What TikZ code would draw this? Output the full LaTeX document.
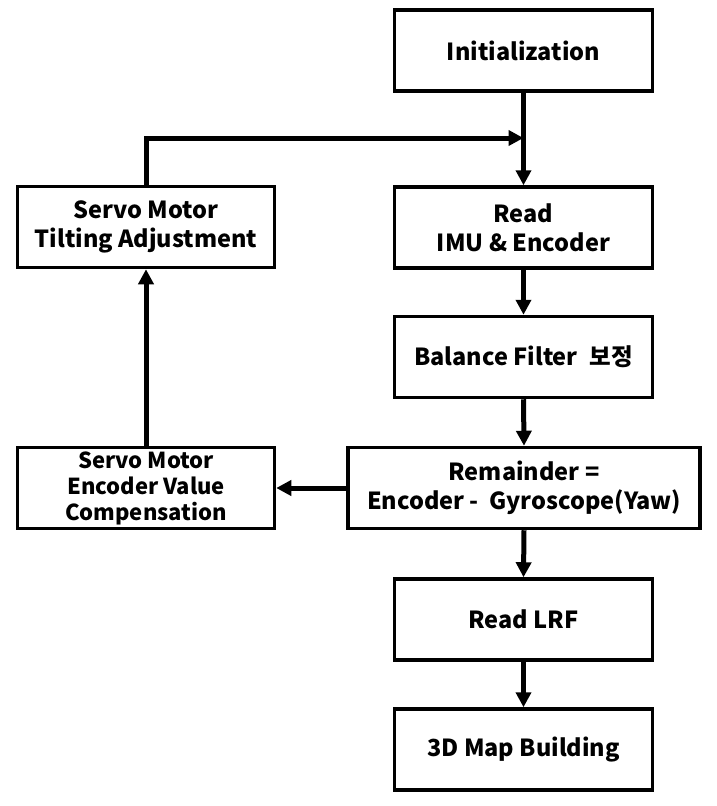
\documentclass[tikz,border=0pt]{standalone}
\usepackage{fontspec}
\setmainfont{Noto Sans CJK KR}
\usetikzlibrary{arrows.meta}
\begin{document}
\begin{tikzpicture}[x=1pt,y=-1pt,
  box/.style={draw=black, line width=3.5pt, fill=white, align=center,
    minimum width=258pt, minimum height=81pt, inner sep=2pt,
    font=\bfseries\fontsize{23.5}{29}\selectfont},
  arr/.style={line width=5pt, -{Triangle[length=15pt,width=15pt]}},
  ln/.style={line width=5pt}]
\useasboundingbox (0,0) rectangle (716,806);
\node[box] (init) at (523.5,50.5) {Initialization};
\node[box] (imu) at (523.5,227.5) {Read\\IMU \& Encoder};
\node[box] (bal) at (523.5,357) {Balance Filter\hspace{0.5em}보정};
\node[box, minimum width=352pt] (rem) at (524,488) {Remainder =\\Encoder -\hspace{0.45em}Gyroscope(Yaw)};
\node[box] (lrf) at (523.5,619.5) {Read LRF};
\node[box] (map) at (523.5,749.5) {3D Map Building};
\node[box, minimum width=257pt] (tilt) at (146,227) {Servo Motor\\Tilting Adjustment};
\node[box, minimum width=257pt, font=\bfseries\fontsize{22}{26}\selectfont] (enc) at (146,488) {Servo Motor\\Encoder Value\\Compensation};
\coordinate (j) at (523.5,138);
\draw[arr] (init.south) -- (imu.north);
\draw[arr] (tilt.north) |- (j);
\draw[arr] (imu.south) -- (bal.north);
\draw[arr] (bal.south) -- (rem.north);
\draw[arr] (rem.south) -- (lrf.north);
\draw[arr] (lrf.south) -- (map.north);
\draw[arr] (rem.west) -- (enc.east);
\draw[arr] (enc.north) -- (tilt.south);
\end{tikzpicture}
\end{document}
